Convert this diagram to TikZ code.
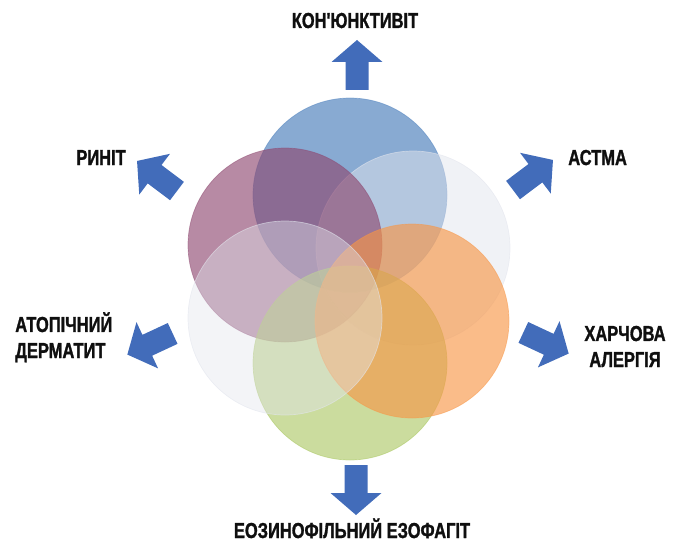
\documentclass[tikz,border=0pt]{standalone}
\usepackage{fontspec}
\newfontfamily\condfont{Liberation Sans Bold}[FakeStretch=0.76, FakeBold=1.3]
\usetikzlibrary{calc}

\definecolor{arrowblue}{RGB}{66,108,186}
\definecolor{discblue}{RGB}{79,129,189}
\definecolor{discgray}{RGB}{226,229,237}
\definecolor{discplum}{RGB}{142,72,112}
\definecolor{discorange}{RGB}{247,150,70}
\definecolor{discgreen}{RGB}{165,195,88}
\definecolor{tagtext}{RGB}{15,15,15}

\tikzset{
  disc/.style={fill=#1, draw=#1, fill opacity=0.68, draw opacity=0.5, line width=0.5pt},
  haze/.style={fill=discgray, draw=discgray, fill opacity=0.5, draw opacity=0.6, line width=0.5pt},
  tag/.style={inner sep=0pt, text=tagtext, font=\condfont\bfseries\fontsize{15.4}{18.5}\selectfont},
  blockarrow/.pic={
    \fill[arrowblue] (-25,-11.5) -- (3,-11.5) -- (3,-25.5) -- (25,0)
      -- (3,25.5) -- (3,11.5) -- (-25,11.5) -- cycle;
  }
}

\begin{document}
\begin{tikzpicture}[x=0.025cm, y=-0.025cm]
    \useasboundingbox (0,0) rectangle (681,551);
    % centres of the six discs
    \coordinate (Conj) at (350,195);
    \coordinate (Asth) at (413,248);
    \coordinate (Rhin) at (285,245);
    \coordinate (Food) at (412,321);
    \coordinate (Eoso) at (350,363);
    \coordinate (Derm) at (285,318);
    \def\rad{97}
    \draw[disc=discblue] (Conj) circle (\rad);
    \draw[haze] (Asth) circle (\rad);
    \draw[disc=discplum, fill opacity=0.64] (Rhin) circle (\rad);
    \draw[disc=discgreen, fill opacity=0.58] (Eoso) circle (\rad);
    \draw[disc=discorange, fill opacity=0.64] (Food) circle (\rad);
    \draw[haze, fill opacity=0.42] (Derm) circle (\rad);
    % arrows
    \pic[rotate=90]  (upArrow)    at (357,65)  {blockarrow};
    \pic[rotate=143] (rhinArrow)  at (157,176) {blockarrow};
    \pic[rotate=37]  (asthArrow)  at (533,175) {blockarrow};
    \pic[rotate=205] (dermArrow)  at (150,344) {blockarrow};
    \pic[rotate=-25] (foodArrow)  at (546,343) {blockarrow};
    \pic[rotate=270] (downArrow)  at (356,490) {blockarrow};
    % labels
    \node[tag, anchor=base] (conjText) at (355,28) {КОН'ЮНКТИВІТ};
    \node[tag, anchor=base east] (rhinText) at (126,165) {РИНІТ};
    \node[tag, anchor=base west] (asthText) at (568,165) {АСТМА};
    \node[tag, anchor=base west, align=left] (dermText) at (15,358) {АТОПІЧНИЙ\\ДЕРМАТИТ};
    \node[tag, anchor=base, align=center] (foodText) at (625,367) {ХАРЧОВА\\АЛЕРГІЯ};
    \node[tag, anchor=base] (eosoText) at (352,538) {ЕОЗИНОФІЛЬНИЙ ЕЗОФАГІТ};
\end{tikzpicture}
\end{document}
